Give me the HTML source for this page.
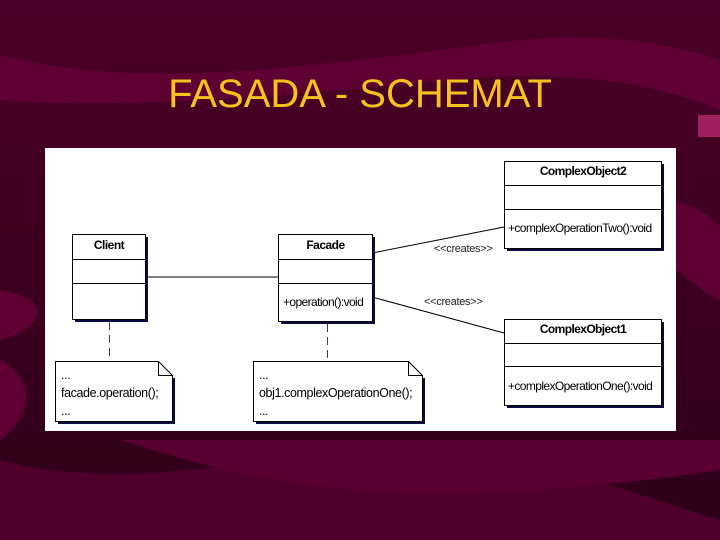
<!DOCTYPE html>
<html><head><style>
html,body{margin:0;padding:0}
body{width:720px;height:540px;position:relative;overflow:hidden;background:#3a0020;font-family:"Liberation Sans",sans-serif}
.t{position:absolute;font-size:12px;color:#000;white-space:nowrap}
</style></head><body>
<svg width="720" height="540" style="position:absolute;left:0;top:0">
<defs>
<linearGradient id="g" x1="0" y1="0" x2="0" y2="1">
<stop offset="0" stop-color="#4a0026"/><stop offset="0.5" stop-color="#3d001f"/><stop offset="1" stop-color="#2e0018"/>
</linearGradient>
</defs>
<rect width="720" height="540" fill="url(#g)"/>
<path d="M0,55 C150,95 350,60 520,40 C620,30 690,50 720,60 L720,110 C650,80 560,70 450,80 C300,95 120,110 0,100 Z" fill="#5e0032"/>
<path d="M0,290 C60,300 40,330 0,340 Z" fill="#5e0032"/>
<path d="M0,360 C40,380 30,420 0,440 Z" fill="#5e0032"/>
<path d="M676,200 C700,210 720,220 720,230 L720,300 C700,290 690,280 676,270 Z" fill="#5e0032"/>
<path d="M0,460 C150,500 300,440 420,450 C560,460 650,500 720,520 L720,540 L0,540 Z" fill="#4e002a"/>
<path d="M120,440 C250,480 380,520 720,470 L720,440 Z" fill="#5a0030"/>
<rect x="698" y="115" width="22" height="22" fill="#a02060"/>
<rect x="45" y="148" width="631" height="283" fill="#fff"/>
<g stroke="#000" stroke-width="1" fill="#fff">
<line x1="145" y1="277" x2="278" y2="277"/>
<line x1="372" y1="253" x2="504" y2="227"/>
<line x1="372" y1="297" x2="504" y2="333"/>
</g>
<g fill="#0a0a40">
<rect x="75" y="237" width="73" height="85"/>
<rect x="281" y="237" width="94" height="87"/>
<rect x="507" y="164" width="157" height="87"/>
<rect x="507" y="322" width="157" height="86"/>
<path d="M172,378 L175,378 V424 H58 V421 H172 Z"/>
<path d="M422,378 L425,378 V424 H256 V421 H422 Z"/>
</g>
<g stroke="#000" stroke-width="1" fill="#fff">
<rect x="72.5" y="234.5" width="73" height="85"/>
<line x1="72" y1="259.5" x2="146" y2="259.5"/><line x1="72" y1="283.5" x2="146" y2="283.5"/>
<rect x="278.5" y="234.5" width="94" height="87"/>
<line x1="278" y1="259.5" x2="373" y2="259.5"/><line x1="278" y1="283.5" x2="373" y2="283.5"/>
<rect x="504.5" y="161.5" width="157" height="87"/>
<line x1="504" y1="185.5" x2="662" y2="185.5"/><line x1="504" y1="209.5" x2="662" y2="209.5"/>
<rect x="504.5" y="319.5" width="157" height="86"/>
<line x1="504" y1="343.5" x2="662" y2="343.5"/><line x1="504" y1="366.5" x2="662" y2="366.5"/>
<path d="M55.5,361.5 H158.5 L172.5,375.5 V421.5 H55.5 Z"/>
<path d="M158.5,361.5 V375.5 H172.5" fill="none"/>
<path d="M253.5,361.5 H408.5 L422.5,375.5 V421.5 H253.5 Z"/>
<path d="M408.5,361.5 V375.5 H422.5" fill="none"/>
</g>
<g stroke="#503060" stroke-width="1" stroke-dasharray="8,5">
<line x1="109.5" y1="322" x2="109.5" y2="361"/>
<line x1="327.5" y1="324" x2="327.5" y2="361"/>
</g>
</svg>
<div style="position:absolute;left:0;width:720px;top:72px;text-align:center;color:#f7c21e;font-size:40px">FASADA - SCHEMAT</div>
<div class="t" style="left:72px;width:74px;text-align:center;top:238px;font-weight:bold;letter-spacing:-0.5px">Client</div>
<div class="t" style="left:278px;width:95px;text-align:center;top:238px;font-weight:bold;letter-spacing:-0.5px">Facade</div>
<div class="t" style="left:283px;top:295px;letter-spacing:-0.6px">+operation():void</div>
<div class="t" style="left:504px;width:158px;text-align:center;top:164px;font-weight:bold;letter-spacing:-0.6px">ComplexObject2</div>
<div class="t" style="left:508px;top:221px;letter-spacing:-0.6px">+complexOperationTwo():void</div>
<div class="t" style="left:504px;width:158px;text-align:center;top:322px;font-weight:bold;letter-spacing:-0.6px">ComplexObject1</div>
<div class="t" style="left:508px;top:379px;letter-spacing:-0.6px">+complexOperationOne():void</div>
<div class="t" style="left:434px;top:243px;font-size:11px;color:#222;letter-spacing:-0.3px">&lt;&lt;creates&gt;&gt;</div>
<div class="t" style="left:424px;top:296px;font-size:11px;color:#222;letter-spacing:-0.3px">&lt;&lt;creates&gt;&gt;</div>
<div class="t" style="left:61px;top:366px;line-height:18px;font-size:12.5px;letter-spacing:-0.4px">...<br>facade.operation();<br>...</div>
<div class="t" style="left:259px;top:366px;line-height:18px;font-size:12.5px;letter-spacing:-0.4px">...<br>obj1.complexOperationOne();<br>...</div>
</body></html>
